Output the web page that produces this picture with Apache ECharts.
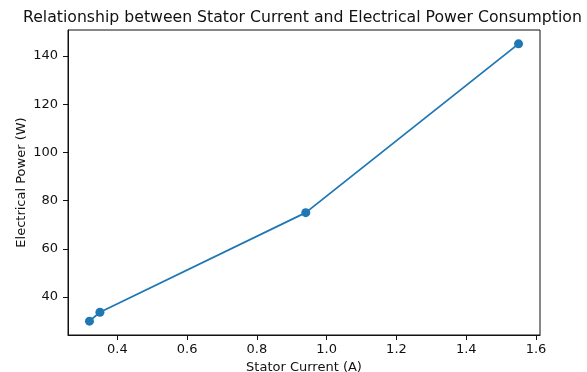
<!DOCTYPE html>
<html>
<head>
<meta charset="utf-8">
<script src="https://cdn.jsdelivr.net/npm/echarts@6/dist/echarts.min.js"></script>
<style>
  html, body { margin: 0; padding: 0; background: #fff; }
  #chart { width: 587px; height: 372px; }
</style>
</head>
<body>
<div id="chart"></div>
<script>
// stator current (A) vs electrical power (W)
const current = [0.32, 0.35, 0.94, 1.55]
const power = [30, 33.7, 75, 145]
const xTicks = [0.4, 0.6, 0.8, 1.0, 1.2, 1.4, 1.6]
const yTicks = [40, 60, 80, 100, 120, 140]

const font = 'DejaVu Sans'
let myChart = echarts.init(document.getElementById('chart'))

let points = current.map((c, i) => [c, power[i]])

let option = {
  animation: false,
  backgroundColor: '#fff',
  title: {
    text: 'Relationship between Stator Current and Electrical Power Consumption',
    left: 18,
    top: 5,
    textStyle: { fontFamily: font, fontSize: 15.7, fontWeight: 'normal', color: '#111' }
  },
  grid: {
    left: 68, right: 47, top: 30, bottom: 37,
    outerBoundsMode: 'none',
    containLabel: false,
    show: true, borderColor: '#111', borderWidth: 1
  },
  xAxis: {
    type: 'value',
    min: 0.2585,
    max: 1.6115,
    name: 'Stator Current (A)',
    nameLocation: 'middle',
    nameGap: 21,
    nameTextStyle: { fontFamily: font, fontSize: 13, color: '#111' },
    splitLine: { show: false },
    axisLine: { show: true, lineStyle: { color: '#111', width: 1 } },
    axisTick: { show: true, inside: false, length: 5, lineStyle: { color: '#111' }, customValues: xTicks },
    axisLabel: {
      customValues: xTicks,
      fontFamily: font, fontSize: 13, color: '#111', margin: 8,
      formatter: v => v.toFixed(1)
    }
  },
  yAxis: {
    type: 'value',
    min: 24.25,
    max: 150.75,
    name: 'Electrical Power (W)',
    nameLocation: 'middle',
    nameGap: 40,
    nameMoveOverlap: false,
    nameRotate: 90,
    nameTextStyle: { fontFamily: font, fontSize: 13, color: '#111' },
    splitLine: { show: false },
    axisLine: { show: true, lineStyle: { color: '#111', width: 1 } },
    axisTick: { show: true, inside: false, length: 5, lineStyle: { color: '#111' }, customValues: yTicks },
    axisLabel: {
      customValues: yTicks,
      fontFamily: font, fontSize: 13, color: '#111', margin: 10
    }
  },
  series: [
    {
      type: 'line',
      data: points,
      symbol: 'circle',
      symbolSize: 9,
      lineStyle: { color: '#1f77b4', width: 1.8 },
      itemStyle: { color: '#1f77b4' }
    }
  ]
}

myChart.setOption(option, true)
</script>
</body>
</html>
